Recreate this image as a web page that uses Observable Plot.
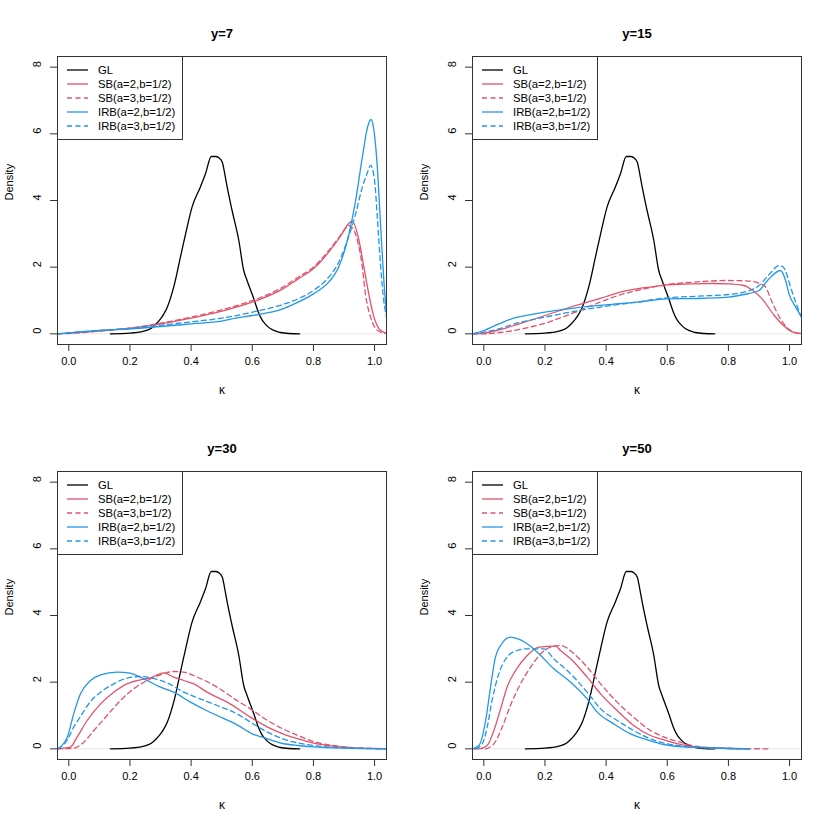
<!DOCTYPE html>
<html>
<head>
<meta charset="utf-8">
<script src="https://cdn.jsdelivr.net/npm/d3@7"></script>
<script src="https://cdn.jsdelivr.net/npm/@observablehq/plot@0.6"></script>
<style>
  html, body { margin: 0; padding: 0; background: #fff; }
  #grid { display: grid; grid-template-columns: 415px 415px; grid-template-rows: 415px 415px; width: 830px; height: 830px; }
  #grid > svg { display: block; }
</style>
</head>
<body>
<div id="grid"></div>
<script>
// ---------- labels / styles ----------
const panelTitles = ["y=7", "y=15", "y=30", "y=50"];
const seriesNames = ["GL", "SB(a=2,b=1/2)", "SB(a=3,b=1/2)", "IRB(a=2,b=1/2)", "IRB(a=3,b=1/2)"];
const seriesColors = ["#000000", "#DF536B", "#DF536B", "#2297E6", "#2297E6"];
const seriesDash = [null, null, "5,3.5", null, "5,3.5"];
const xTicks = [0, 0.2, 0.4, 0.6, 0.8, 1.0];
const yTicks = [0, 2, 4, 6, 8];
const xLabel = "κ";
const yLabel = "Density";

// ---------- density curves [kappa, density] ----------
const GL = [[0.136,0],[0.2,0.02],[0.245,0.08],[0.27,0.17],[0.284,0.28],[0.3,0.45],[0.311,0.6],[0.322,0.8],[0.343,1.4],[0.365,2.3],[0.382,3.0],[0.403,3.8],[0.43,4.4],[0.447,4.8],[0.466,5.32],[0.48,5.32],[0.491,5.28],[0.502,5.15],[0.51,4.8],[0.518,4.4],[0.534,3.7],[0.556,2.8],[0.572,1.9],[0.583,1.6],[0.605,1.05],[0.62,0.65],[0.632,0.42],[0.645,0.27],[0.66,0.15],[0.692,0.04],[0.72,0.01],[0.755,0]];

const y7_SB2 = [[-0.037,0],[0,0.02],[0.1,0.09],[0.2,0.17],[0.3,0.3],[0.4,0.47],[0.5,0.68],[0.6,0.95],[0.7,1.35],[0.75,1.65],[0.8,1.95],[0.85,2.45],[0.89,2.95],[0.91,3.25],[0.927,3.38],[0.949,2.8],[0.965,2.0],[0.981,1.2],[0.998,0.5],[1.02,0.1],[1.039,0.02]];
const y7_SB3 = [[-0.037,0],[0,0.01],[0.1,0.08],[0.2,0.17],[0.3,0.32],[0.4,0.5],[0.5,0.72],[0.6,1.0],[0.7,1.4],[0.75,1.7],[0.8,2.0],[0.85,2.5],[0.88,2.85],[0.9,3.1],[0.916,3.25],[0.93,3.15],[0.941,2.9],[0.96,2.0],[0.97,1.2],[0.987,0.5],[1.01,0.1],[1.039,0.01]];
const y7_IRB2 = [[-0.037,0],[0,0.03],[0.1,0.1],[0.2,0.15],[0.3,0.22],[0.4,0.3],[0.5,0.38],[0.55,0.48],[0.6,0.55],[0.7,0.75],[0.75,0.95],[0.8,1.2],[0.85,1.55],[0.88,1.95],[0.911,2.8],[0.938,4.0],[0.96,5.3],[0.977,6.2],[0.988,6.43],[0.998,6.1],[1.009,5.0],[1.02,3.2],[1.031,1.5],[1.039,0.6]];
const y7_IRB3 = [[-0.037,0],[0,0.03],[0.1,0.1],[0.2,0.16],[0.3,0.26],[0.4,0.36],[0.5,0.47],[0.6,0.65],[0.7,0.88],[0.75,1.05],[0.8,1.3],[0.85,1.7],[0.88,2.1],[0.911,2.8],[0.938,3.6],[0.96,4.4],[0.977,4.85],[0.987,5.05],[1.0,4.6],[1.009,3.5],[1.02,2.0],[1.03,1.0],[1.039,0.5]];

const y15_SB2 = [[-0.037,0],[0,0.02],[0.05,0.12],[0.1,0.25],[0.15,0.4],[0.2,0.55],[0.25,0.7],[0.3,0.85],[0.35,0.98],[0.4,1.12],[0.45,1.26],[0.5,1.35],[0.55,1.41],[0.6,1.47],[0.65,1.49],[0.7,1.5],[0.75,1.51],[0.8,1.5],[0.85,1.45],[0.88,1.3],[0.91,1.05],[0.95,0.55],[0.98,0.25],[1.0,0.1],[1.02,0.03],[1.039,0.01]];
const y15_SB3 = [[-0.037,0],[0,0.0],[0.05,0.04],[0.1,0.1],[0.15,0.2],[0.2,0.32],[0.25,0.48],[0.3,0.65],[0.35,0.84],[0.4,1.02],[0.45,1.18],[0.5,1.3],[0.6,1.48],[0.7,1.56],[0.8,1.6],[0.87,1.58],[0.9,1.52],[0.92,1.42],[0.943,0.95],[0.97,0.45],[1.0,0.12],[1.02,0.03],[1.039,0.01]];
const y15_IRB2 = [[-0.037,0],[0,0.1],[0.05,0.3],[0.1,0.48],[0.15,0.57],[0.2,0.65],[0.3,0.78],[0.4,0.87],[0.5,0.95],[0.6,1.05],[0.7,1.06],[0.8,1.1],[0.85,1.18],[0.9,1.3],[0.93,1.62],[0.97,1.9],[0.987,1.6],[0.998,1.2],[1.02,0.8],[1.039,0.5]];
const y15_IRB3 = [[-0.037,0],[0,0.05],[0.05,0.15],[0.1,0.3],[0.2,0.5],[0.3,0.68],[0.4,0.83],[0.5,0.95],[0.6,1.08],[0.7,1.13],[0.8,1.18],[0.85,1.25],[0.9,1.45],[0.94,1.85],[0.965,2.05],[0.98,2.0],[0.99,1.8],[1.0,1.5],[1.02,0.95],[1.039,0.5]];

const y30_SB2 = [[-0.037,0],[-0.016,0.02],[0.005,0.05],[0.027,0.35],[0.06,0.85],[0.104,1.35],[0.147,1.7],[0.19,1.95],[0.234,2.07],[0.267,2.13],[0.31,2.28],[0.343,2.15],[0.376,2.05],[0.409,1.95],[0.452,1.7],[0.518,1.4],[0.594,0.95],[0.65,0.65],[0.7,0.45],[0.75,0.3],[0.8,0.17],[0.9,0.05],[1.0,0.01],[1.039,0]];
const y30_SB3 = [[-0.037,0],[0.016,0.02],[0.049,0.2],[0.082,0.55],[0.125,1.0],[0.169,1.45],[0.212,1.8],[0.256,2.05],[0.3,2.22],[0.343,2.32],[0.376,2.3],[0.42,2.15],[0.485,1.85],[0.55,1.45],[0.594,1.2],[0.65,0.85],[0.7,0.6],[0.75,0.4],[0.8,0.22],[0.85,0.12],[0.9,0.06],[1.0,0.01],[1.039,0]];
const y30_IRB2 = [[-0.037,0],[-0.005,0.35],[0.016,1.05],[0.038,1.65],[0.071,2.05],[0.104,2.22],[0.158,2.3],[0.2,2.27],[0.245,2.1],[0.3,1.85],[0.343,1.7],[0.398,1.4],[0.45,1.15],[0.485,1.0],[0.55,0.72],[0.6,0.45],[0.65,0.3],[0.7,0.16],[0.75,0.1],[0.8,0.06],[0.9,0.02],[1.0,0.005],[1.039,0]];
const y30_IRB3 = [[-0.037,0],[-0.027,0.05],[-0.005,0.27],[0.016,0.65],[0.038,0.97],[0.071,1.42],[0.104,1.7],[0.147,1.95],[0.19,2.12],[0.234,2.17],[0.267,2.13],[0.321,1.98],[0.376,1.7],[0.43,1.5],[0.485,1.3],[0.55,1.05],[0.594,0.8],[0.65,0.5],[0.7,0.3],[0.8,0.1],[0.9,0.03],[1.0,0.005],[1.039,0]];

const y50_SB2 = [[-0.037,0],[-0.016,0],[0.011,0.1],[0.033,0.55],[0.055,1.2],[0.076,1.85],[0.104,2.35],[0.142,2.8],[0.18,3.05],[0.235,3.08],[0.251,2.95],[0.284,2.7],[0.338,2.15],[0.382,1.65],[0.436,1.15],[0.49,0.7],[0.545,0.4],[0.578,0.3],[0.65,0.12],[0.7,0.05],[0.8,0.01],[0.87,0]];
const y50_SB3 = [[0.006,0],[0.033,0.15],[0.06,0.65],[0.087,1.3],[0.12,1.95],[0.153,2.45],[0.186,2.85],[0.218,3.05],[0.251,3.1],[0.295,2.85],[0.338,2.45],[0.382,1.95],[0.436,1.4],[0.49,0.95],[0.545,0.55],[0.578,0.4],[0.65,0.18],[0.7,0.07],[0.8,0.02],[0.93,0]];
const y50_IRB2 = [[-0.038,0],[-0.016,0.1],[0.006,0.85],[0.022,1.85],[0.038,2.75],[0.055,3.1],[0.087,3.35],[0.12,3.27],[0.142,3.15],[0.175,2.9],[0.229,2.4],[0.284,2.0],[0.338,1.5],[0.371,1.1],[0.425,0.75],[0.48,0.45],[0.535,0.27],[0.578,0.15],[0.65,0.06],[0.7,0.04],[0.8,0.01],[0.87,0]];
const y50_IRB3 = [[-0.027,0],[-0.005,0.15],[0.011,0.65],[0.027,1.45],[0.049,2.25],[0.076,2.75],[0.109,2.95],[0.142,3.0],[0.196,3.0],[0.229,2.7],[0.284,2.25],[0.338,1.7],[0.382,1.2],[0.436,0.85],[0.49,0.55],[0.545,0.3],[0.578,0.2],[0.65,0.08],[0.7,0.04],[0.8,0.01],[0.87,0]];

const panelCurves = [
  [GL, y7_SB2, y7_SB3, y7_IRB2, y7_IRB3],
  [GL, y15_SB2, y15_SB3, y15_IRB2, y15_IRB3],
  [GL, y30_SB2, y30_SB3, y30_IRB2, y30_IRB3],
  [GL, y50_SB2, y50_SB3, y50_IRB2, y50_IRB3]
];

const FONT = "'Liberation Sans', Arial, Helvetica, sans-serif";
const M = {left: 57, right: 29, top: 56, bottom: 71};

function makePanel(title, curves) {
  const marks = [
    Plot.ruleY([0], {stroke: "#e6e6e6", strokeWidth: 1}),
    ...curves.map((c, i) => Plot.line(c, {
      x: d => d[0], y: d => d[1],
      stroke: seriesColors[i], strokeWidth: 1.3,
      strokeDasharray: seriesDash[i] || undefined,
      curve: "monotone-x", clip: true
    })),
    Plot.frame({stroke: "#333", strokeWidth: 1}),
    Plot.axisX({ticks: xTicks, tickSize: 7, tickPadding: 6, tickFormat: d => d.toFixed(1), label: null, fontSize: 11, stroke: "#333", color: "#000"}),
    Plot.axisY({ticks: yTicks, tickSize: 7, tickFormat: () => "", label: null, stroke: "#333"}),
    Plot.text(yTicks, {y: d => d, text: d => String(d), frameAnchor: "left", dx: -20, rotate: -90, fontSize: 11, fill: "#000"}),
    Plot.text([title], {frameAnchor: "top", dy: -28, text: d => d, fontWeight: "bold", fontSize: 13, fill: "#000"}),
    Plot.text([xLabel], {frameAnchor: "bottom", dy: 49, text: d => d, fontSize: 12, fill: "#000"}),
    Plot.text([yLabel], {frameAnchor: "left", dx: -48, rotate: -90, text: d => d, fontSize: 11, fill: "#000"})
  ];
  const svg = Plot.plot({
    width: 415, height: 415,
    marginLeft: M.left, marginRight: M.right, marginTop: M.top, marginBottom: M.bottom,
    x: {domain: [-0.037, 1.039]},
    y: {domain: [-0.32, 8.32]},
    style: {fontFamily: FONT, fontSize: "11px", background: "#fff", overflow: "visible"},
    marks
  });
  // legend (top-left inside the frame, like R's legend("topleft"))
  const g = d3.select(svg).append("g")
    .attr("font-family", FONT).attr("font-size", 11.3).attr("text-anchor", "start");
  g.append("rect").attr("x", M.left + 0.5).attr("y", M.top + 0.5).attr("width", 125).attr("height", 83)
    .attr("fill", "#fff").attr("stroke", "#333");
  seriesNames.forEach((name, i) => {
    const yy = M.top + 14 + i * 14;
    g.append("line").attr("x1", M.left + 10).attr("x2", M.left + 31).attr("y1", yy).attr("y2", yy)
      .attr("stroke", seriesColors[i]).attr("stroke-width", 1.3)
      .attr("stroke-dasharray", seriesDash[i] || null);
    g.append("text").attr("x", M.left + 41).attr("y", yy).attr("dy", "0.35em")
      .attr("text-anchor", "start").attr("fill", "#000").text(name);
  });
  return svg;
}

const grid = document.getElementById("grid");
panelTitles.forEach((t, i) => grid.appendChild(makePanel(t, panelCurves[i])));
</script>
</body>
</html>
